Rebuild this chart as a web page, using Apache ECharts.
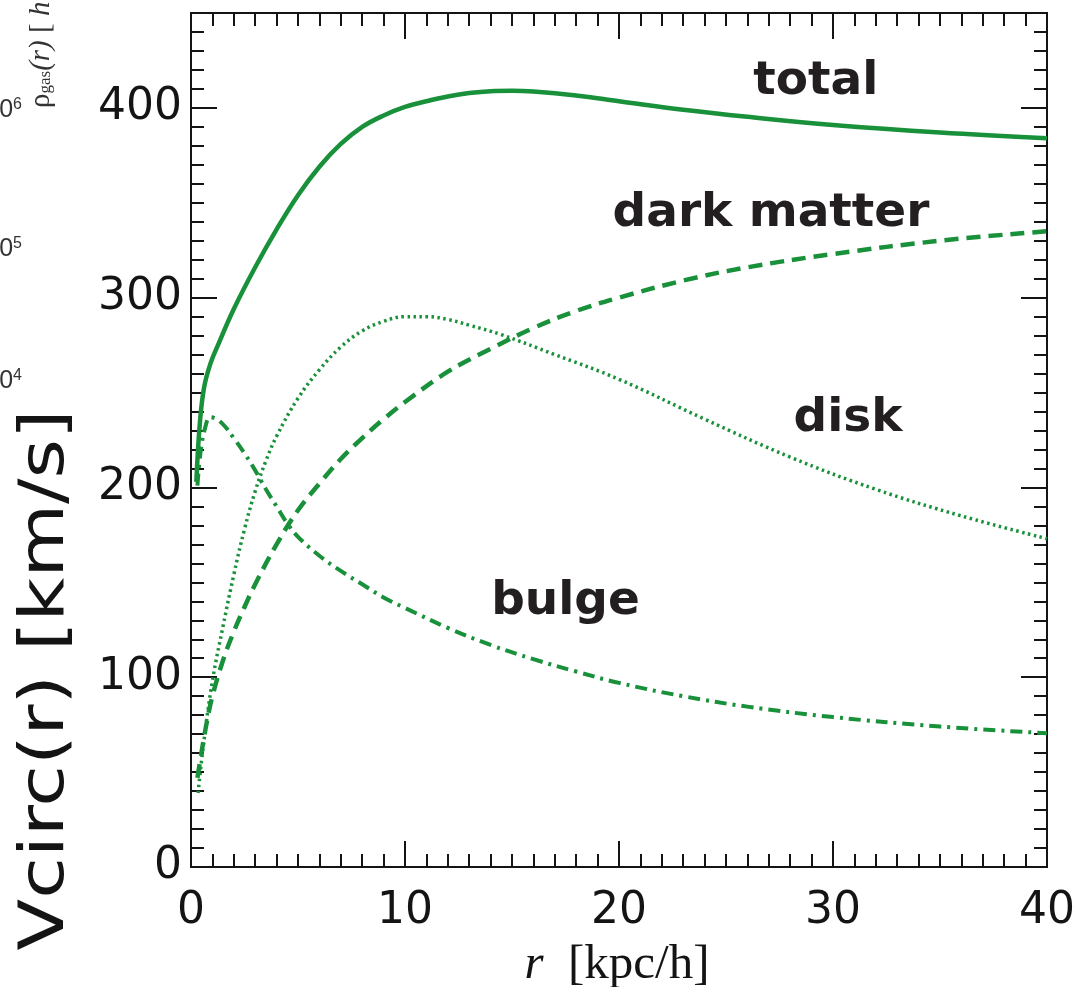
<!DOCTYPE html>
<html>
<head>
<meta charset="utf-8">
<script src="https://cdn.jsdelivr.net/npm/echarts@6/dist/echarts.min.js"></script>
<style>
  html, body { margin: 0; padding: 0; background: #ffffff; }
  #chart { width: 1081px; height: 987px; }
</style>
</head>
<body>
<div id="chart"></div>
<script>
// Circular velocity components of the model galaxy, [r (kpc/h), Vcirc (km/s)]
const totalCurve = [
  [0.25, 203], [0.4, 232], [0.6, 252], [0.9, 265], [1.3, 276], [2.0, 294],
  [3.0, 316], [4.0, 336], [5.0, 354], [6.0, 369], [7.0, 381], [8.0, 390],
  [9.0, 396], [10, 400.5], [11, 403.5], [12, 406], [13, 407.8], [14, 408.8],
  [15, 409], [16, 408.6], [18, 406.5], [20, 403.5], [23, 399], [26, 395.3],
  [30, 391], [35, 387], [40, 384]
];
const darkMatterCurve = [
  [0.3, 47], [0.5, 61], [0.75, 77], [1.0, 90], [1.5, 109], [2.0, 124],
  [2.5, 137], [3.0, 149], [4.0, 170], [5.0, 188], [6.0, 202], [7.0, 215],
  [8.0, 226], [9.0, 236], [10, 245], [12, 261], [14, 273], [16, 284],
  [18, 293], [20, 300], [23, 309], [26, 316], [30, 323], [35, 330], [40, 335]
];
const diskCurve = [
  [0.33, 39], [0.6, 66], [1.0, 98], [1.5, 127], [2.0, 154], [2.5, 178],
  [3.0, 198], [3.5, 214], [4.0, 227], [5.0, 247], [6.0, 262], [7.0, 274],
  [8.0, 282.5], [9.0, 287.5], [10, 290], [11, 290], [12, 288.5], [13, 285.5],
  [14.5, 280.5], [17, 270], [20, 257], [24, 236], [28, 216], [32, 199],
  [36, 185], [40, 173]
];
const bulgeCurve = [
  [0.3, 201], [0.45, 219], [0.65, 231], [0.9, 237], [1.2, 236], [1.6, 232],
  [2.0, 226], [2.5, 218], [3.0, 209], [3.5, 199], [4.0, 190], [4.5, 181],
  [5.0, 174], [6.0, 164], [7.0, 156], [8.0, 149], [9.0, 142], [10, 136.5],
  [12, 126], [14, 117], [16, 109.5], [18, 103], [20, 97], [23, 90],
  [26, 84.5], [30, 79], [35, 74], [40, 70.5]
];

// Curve names written next to each curve, anchored in data coordinates
const curveNames = ['total', 'dark matter', 'disk', 'bulge'];
const nameAnchors = [[29.2, 414], [27.1, 344], [30.7, 236], [17.5, 140]];

// Axis ranges and tick steps
const xMin = 0, xMax = 40, xMajor = 10, xMinor = 1;
const yMin = 0, yMax = 450, yMajor = 100, yMinor = 10;

const GREEN = '#19903a';
const INK = '#141414';
const TEXT = '#231f20';

function frameAxis(dim, position, interval, tickLen, withLabels) {
  const ax = {
    type: 'value',
    position: position,
    min: dim === 'x' ? xMin : yMin,
    max: dim === 'x' ? xMax : yMax,
    interval: interval,
    axisLine: { show: true, onZero: false, lineStyle: { color: INK, width: 2 } },
    axisTick: { show: true, inside: true, length: tickLen, lineStyle: { color: INK, width: 2 } },
    splitLine: { show: false },
    axisLabel: { show: false }
  };
  if (withLabels) {
    ax.axisLabel = {
      show: true,
      fontFamily: 'DejaVu Sans',
      fontSize: 44,
      color: INK,
      margin: dim === 'x' ? 23 : 9,
      showMaxLabel: dim === 'x',
      formatter: v => (v % interval === 0 ? String(v) : '')
    };
  }
  return ax;
}

const chart = echarts.init(document.getElementById('chart'), null, { renderer: 'canvas' });

function lineSeries(name, data, width, dash) {
  return {
    name: name,
    type: 'line',
    xAxisIndex: 0,
    yAxisIndex: 0,
    data: data,
    showSymbol: false,
    smooth: 0.4,
    animation: false,
    lineStyle: { color: GREEN, width: width, type: dash, cap: 'butt', join: 'round' },
    z: 3
  };
}

chart.setOption({
  backgroundColor: '#ffffff',
  animation: false,
  grid: { left: 191, right: 34, top: 13, bottom: 120, containLabel: false },
  xAxis: [
    frameAxis('x', 'bottom', xMajor, 26, true),
    frameAxis('x', 'bottom', xMinor, 13, false),
    frameAxis('x', 'top', xMajor, 26, false),
    frameAxis('x', 'top', xMinor, 13, false)
  ],
  yAxis: [
    frameAxis('y', 'left', yMajor, 26, true),
    frameAxis('y', 'left', yMinor, 13, false),
    frameAxis('y', 'right', yMajor, 26, false),
    frameAxis('y', 'right', yMinor, 13, false)
  ],
  series: [
    lineSeries('total', totalCurve, 4.5, 'solid'),
    lineSeries('dark matter', darkMatterCurve, 4.5, [14, 8]),
    lineSeries('disk', diskCurve, 3.5, [2.5, 3.5]),
    lineSeries('bulge', bulgeCurve, 4, [12, 6, 3, 6])
  ]
});

// Curve names, axis titles and the edge of the neighbouring density panel
const graphics = curveNames.map((txt, i) => {
  const p = chart.convertToPixel({ xAxisIndex: 0, yAxisIndex: 0 }, nameAnchors[i]);
  return {
    type: 'text',
    x: p[0], y: p[1],
    style: {
      text: txt,
      x: 0, y: 0,
      align: 'center', verticalAlign: 'middle',
      fontFamily: 'DejaVu Sans', fontWeight: 'bold', fontSize: 47,
      fill: TEXT
    },
    z: 10
  };
});

graphics.push({
  type: 'text',
  x: 47, y: 680,
  rotation: Math.PI / 2,
  scaleX: 1.22,
  style: {
    text: 'Vcirc(r) [km/s]',
    align: 'center', verticalAlign: 'middle',
    fontFamily: 'DejaVu Sans', fontSize: 62, fill: INK
  }
});

graphics.push({
  type: 'text',
  x: 617, y: 965,
  style: {
    text: '{i|r}{n|  [kpc/h]}',
    align: 'center', verticalAlign: 'middle',
    rich: {
      i: { fontFamily: 'Liberation Serif', fontStyle: 'italic', fontSize: 49, fill: INK },
      n: { fontFamily: 'Liberation Serif', fontSize: 49, fill: INK }
    }
  }
});

// tick labels of the adjacent panel, clipped by the page edge
[[110, '6'], [249, '5'], [381, '4']].forEach(([yy, e]) => {
  graphics.push({
    type: 'text',
    x: 22, y: yy,
    style: {
      text: '{b|10}{s|' + e + '}',
      align: 'right', verticalAlign: 'middle',
      rich: {
        b: { fontFamily: 'Liberation Sans', fontSize: 25, fill: '#333' },
        s: { fontFamily: 'Liberation Sans', fontSize: 16, fill: '#333', verticalAlign: 'top', padding: [0, 0, 10, 0] }
      }
    }
  });
});

graphics.push({
  type: 'text',
  x: 41, y: 108,
  rotation: Math.PI / 2,
  style: {
    text: '{r|ρ}{s|gas}{i|(r)}{r| [ }{i|h}',
    align: 'left', verticalAlign: 'middle',
    rich: {
      r: { fontFamily: 'Liberation Serif', fontSize: 29, fill: '#333' },
      i: { fontFamily: 'Liberation Serif', fontStyle: 'italic', fontSize: 29, fill: '#333' },
      s: { fontFamily: 'Liberation Serif', fontSize: 17, fill: '#333', padding: [10, 0, 0, 0] }
    }
  }
});

chart.setOption({ graphic: graphics });
</script>
</body>
</html>
